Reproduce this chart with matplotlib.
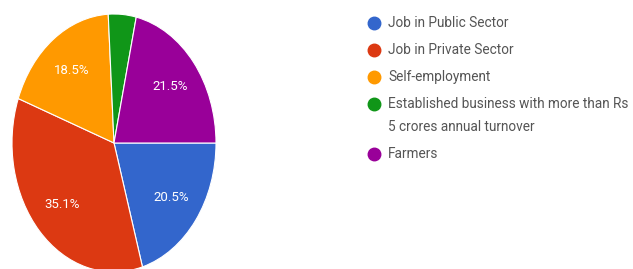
import matplotlib
matplotlib.use("Agg")
import matplotlib.pyplot as plt

categories = ["Job in Public Sector", "Job in Private Sector", "Self-employment",
              "Established business with more than Rs\n5 crores annual turnover", "Farmers"]
values = [20.5, 35.1, 18.5, 4.4, 21.5]
colors = ["#3366CC", "#DC3912", "#FF9900", "#109618", "#990099"]

W, H = 633, 269
fig = plt.figure(figsize=(W / 100, H / 100), dpi=100)
fig.patch.set_facecolor("white")

# Pie (stretched into an ellipse like the reference)
cx, cy, rx, ry = 114, 143, 102, 129
ax = fig.add_axes([(cx - rx) / W, (H - cy - ry) / H, 2 * rx / W, 2 * ry / H])
wedges, texts, autotexts = ax.pie(
    values, colors=colors, startangle=0, counterclock=False,
    autopct=lambda p: f"{p:.1f}%" if p >= 5 else "",
    pctdistance=0.7, radius=1,
    wedgeprops=dict(edgecolor="white", linewidth=0.8),
    textprops=dict(color="white", fontsize=9.5, family="Roboto"))
ax.set_aspect("auto")
ax.set_xlim(-1, 1)
ax.set_ylim(-1, 1)
ax.axis("off")

# Legend
lax = fig.add_axes([0, 0, 1, 1], facecolor="none")
lax.set_xlim(0, W)
lax.set_ylim(H, 0)
lax.axis("off")
y = 23
for lab, col in zip(categories, colors):
    lax.plot(374, y, "o", ms=9, color=col, mec=col)
    for i, line in enumerate(lab.split("\n")):
        lax.text(388, y + i * 23, line, fontsize=9.8, color="#555555",
                 family="Roboto", va="center", ha="left")
    y += 27 + 23 * (lab.count("\n"))

fig.savefig("out.png", dpi=100, facecolor="white")
